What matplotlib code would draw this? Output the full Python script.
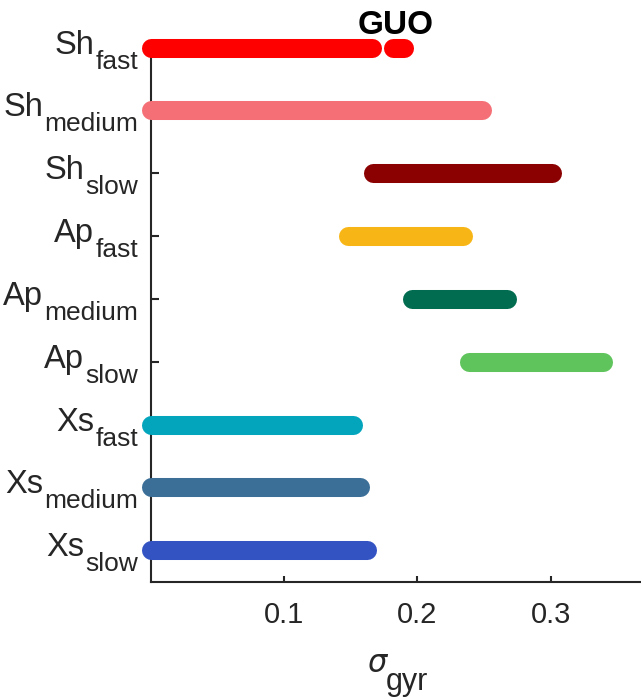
import matplotlib

matplotlib.use("Agg")

import matplotlib.pyplot as plt

plt.rcParams["font.family"] = ["Liberation Sans", "DejaVu Sans"]

ROW_MAIN = ["Sh", "Sh", "Sh", "Ap", "Ap", "Ap", "Xs", "Xs", "Xs"]
ROW_SUB = ["fast", "medium", "slow"] * 3
ROW_COLORS = ["#ff0000", "#f57076", "#8b0000",
              "#f8b616", "#016c50", "#5fc45c",
              "#03a5bd", "#3b6f98", "#3353c3"]

# one entry per segment (Sh_fast has two pieces)
SEG_ROW = [0, 0, 1, 2, 3, 4, 5, 6, 7, 8]
SEG_LO = [0.0, 0.182, 0.0, 0.167, 0.148, 0.196, 0.239, 0.0, 0.0, 0.0]
SEG_HI = [0.166, 0.190, 0.248, 0.301, 0.234, 0.267, 0.339, 0.152, 0.157, 0.162]

X_TICKS = [0.1, 0.2, 0.3]

TEXT_COLOR = "#262626"
MAIN_DROP = 6.0   # label baselines, pixels below the row centre
SUB_DROP = 21.0


def main() -> None:
    fig = plt.figure(figsize=(6.41, 7.0), dpi=100)
    ax = fig.add_axes([0.2348, 0.169, 0.7652, 0.7719])

    for row, lo, hi in zip(SEG_ROW, SEG_LO, SEG_HI):
        ax.plot([lo, hi], [row, row], color=ROW_COLORS[row], lw=13.7,
                solid_capstyle="round", clip_on=False, zorder=3)

    ax.set_xlim(0, 0.3675)
    ax.set_ylim(8.5, -0.1)
    ax.set_xticks(X_TICKS)
    ax.set_xticklabels([f"{t:.1f}" for t in X_TICKS])
    ax.set_yticks(range(len(ROW_MAIN)))
    ax.set_yticklabels([])

    for side in ("top", "right"):
        ax.spines[side].set_visible(False)
    for side in ("left", "bottom"):
        ax.spines[side].set_linewidth(1.5)
        ax.spines[side].set_color(TEXT_COLOR)

    ax.tick_params(axis="x", direction="in", length=4.3, width=1.5, color=TEXT_COLOR,
                   labelsize=21, labelcolor=TEXT_COLOR, pad=14)
    ax.tick_params(axis="y", direction="in", length=5.8, width=1.5, color=TEXT_COLOR)

    # y labels: main text plus a lowered subscript, built by hand
    renderer = fig.canvas.get_renderer()
    trans = ("axes fraction", "data")
    for row, (main_txt, sub_txt) in enumerate(zip(ROW_MAIN, ROW_SUB)):
        sub = ax.annotate(sub_txt, xy=(0, row), xycoords=trans, xytext=(-12.5, -SUB_DROP),
                          textcoords="offset pixels", ha="right", va="baseline",
                          fontsize=19, color=TEXT_COLOR, annotation_clip=False)
        w = sub.get_window_extent(renderer).width
        ax.annotate(main_txt, xy=(0, row), xycoords=trans, xytext=(-12.5 - w - 1, -MAIN_DROP),
                    textcoords="offset pixels", ha="right", va="baseline",
                    fontsize=23.5, color=TEXT_COLOR, annotation_clip=False)

    # x label: sigma with subscript gyr
    ax.annotate("σ", xy=(0.5, 0), xycoords="axes fraction", xytext=(-9, -90),
                textcoords="offset pixels", ha="right", va="baseline", fontsize=22,
                fontstyle="italic", family=["DejaVu Sans"],
                color=TEXT_COLOR, annotation_clip=False)
    ax.annotate("gyr", xy=(0.5, 0), xycoords="axes fraction", xytext=(-10, -108),
                textcoords="offset pixels", ha="left", va="baseline", fontsize=22,
                color=TEXT_COLOR, annotation_clip=False)

    ax.set_title("GUO", fontsize=24, fontweight="bold", pad=3)

    fig.savefig("out.png", dpi=100)
    plt.close(fig)


if __name__ == "__main__":
    main()
